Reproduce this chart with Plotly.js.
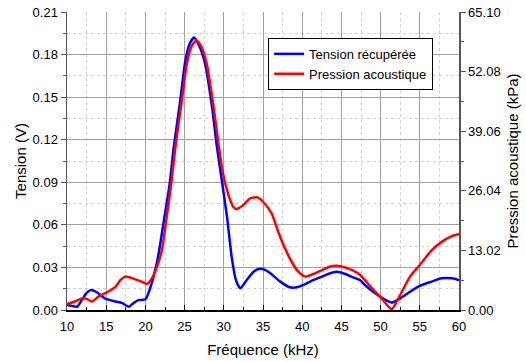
<!DOCTYPE html>
<html>
<head>
<meta charset="utf-8">
<script src="https://cdn.plot.ly/plotly-3.0.1.min.js"></script>
<style>body{margin:0;padding:0;background:#fff;}#chart{width:526px;height:362px;}</style>
</head>
<body>
<div id="chart"></div>
<script>
// Tension récupérée (V)
const freqTension = [10,10.5,11.3,12.0,12.5,13.0,13.8,14.9,16.2,17.0,17.9,18.5,19.1,20.0,20.6,21.2,21.7,22.3,23.1,23.6,24.4,25.05,25.6,26.2,26.8,27.6,28.5,29.1,29.7,30.4,31.0,31.55,32.1,32.9,33.8,34.6,35.2,35.9,37.2,38.4,39.3,40.4,41.4,42.5,43.3,44.4,45.5,46.5,47.4,48.0,49.3,50.3,51.4,52.5,53.75,55.0,56.5,57.8,59.1,60];
const tension = [0.0035,0.003,0.0023,0.008,0.012,0.014,0.0125,0.008,0.006,0.005,0.0023,0.005,0.007,0.0075,0.0153,0.027,0.040,0.061,0.089,0.114,0.1457,0.174,0.187,0.192,0.187,0.174,0.143,0.116,0.093,0.066,0.0376,0.021,0.0153,0.021,0.027,0.029,0.0285,0.026,0.020,0.016,0.016,0.0183,0.021,0.0235,0.0254,0.027,0.0254,0.023,0.021,0.0176,0.0118,0.0082,0.0052,0.0082,0.0129,0.017,0.020,0.0223,0.0223,0.021];

// Pression acoustique (kPa)
const freqPression = [10,11.0,11.9,12.5,13.2,14.0,15.3,16.2,16.8,17.4,18.7,19.5,20.2,20.8,21.3,22.1,22.6,23.3,23.8,24.6,25.3,25.9,26.5,27.1,27.8,28.7,29.3,29.9,30.6,31.2,31.6,32.5,33.35,34.3,35.0,36.1,36.95,37.8,38.65,39.5,40.4,41.4,42.5,43.5,44.4,45.5,46.5,47.4,48.0,49.3,50.3,51.4,52.5,53.75,55.0,56.5,57.8,59.1,60];
const pression = [1.30,1.86,2.54,2.42,1.86,2.91,4.03,5.12,6.51,7.29,6.70,6.20,5.67,6.82,8.68,13.02,18.91,27.59,35.34,45.17,53.94,57.66,58.90,57.66,53.94,44.33,36.58,29.76,25.11,22.57,22.07,22.94,24.40,24.61,23.65,21.08,17.05,13.49,10.54,8.37,7.29,7.87,8.68,9.46,9.67,9.30,8.59,7.66,6.51,4.00,2.17,0.16,3.29,7.29,9.83,13.02,14.88,16.12,16.59];

const rightTicks = [0, 13.02, 26.04, 39.06, 52.08, 65.10];
const rightTickText = ['0.00','13.02','26.04','39.06','52.08','65.10'];

const font = 'Liberation Sans, Arial, sans-serif';

const traces = [
  {x: freqTension, y: tension, name: 'Tension récupérée', type: 'scatter', mode: 'lines',
   line: {color: '#0000FF', width: 2.5, shape: 'spline', smoothing: 0.6}, xaxis: 'x', yaxis: 'y'},
  {x: freqPression, y: pression, name: 'Pression acoustique', type: 'scatter', mode: 'lines',
   line: {color: '#FF0000', width: 2.5, shape: 'spline', smoothing: 0.6}, xaxis: 'x', yaxis: 'y2'}
];

const layout = {
  width: 526, height: 362,
  margin: {l: 67, r: 67, t: 12, b: 52},
  paper_bgcolor: '#fff', plot_bgcolor: '#fff',
  font: {family: font, size: 13, color: '#000'},
  showlegend: true,
  legend: {x: 0.513, y: 0.913, xanchor: 'left', yanchor: 'top', bgcolor: '#fff',
    bordercolor: '#000', borderwidth: 1, font: {family: font, size: 13, color: '#000'},
    tracegroupgap: 0, itemwidth: 30},
  xaxis: {range: [10, 60], dtick: 5, tick0: 10, showline: true, linecolor: '#000', linewidth: 1.5,
    ticks: 'inside', ticklen: 5, tickcolor: '#000', showgrid: true, gridcolor: '#a0a0a0', gridwidth: 1,
    zeroline: false, tickfont: {family: font, size: 13}, ticklabelstandoff: 4,
    minor: {dtick: 2.5, ticks: 'inside', ticklen: 3, tickcolor: '#000', showgrid: true, gridcolor: '#d0d0d0', griddash: 'dot', gridwidth: 1},
    title: {text: 'Fréquence (kHz)', font: {family: font, size: 15}, standoff: 11}},
  yaxis: {range: [0, 0.21], dtick: 0.03, tick0: 0, tickformat: '.2f', showline: true, linecolor: '#555', linewidth: 1.5,
    ticks: 'outside', ticklen: 5, tickcolor: '#555', showgrid: true, gridcolor: '#a0a0a0', gridwidth: 1,
    zeroline: false, tickfont: {family: font, size: 13},
    minor: {dtick: 0.015, ticks: 'outside', ticklen: 3, tickcolor: '#555', showgrid: true, gridcolor: '#d0d0d0', griddash: 'dot', gridwidth: 1},
    title: {text: 'Tension (V)', font: {family: font, size: 15}, standoff: 2}},
  yaxis2: {range: [0, 65.10], overlaying: 'y', side: 'right', tickmode: 'array', tickvals: rightTicks, ticktext: rightTickText,
    showline: true, linecolor: '#555', linewidth: 1.5, ticks: 'outside', ticklen: 5, tickcolor: '#555',
    showgrid: false, zeroline: false, tickfont: {family: font, size: 13},
    minor: {tickvals: [6.51, 19.53, 32.55, 45.57, 58.59], ticks: 'outside', ticklen: 3, tickcolor: '#555', showgrid: false},
    title: {text: 'Pression acoustique (kPa)', font: {family: font, size: 15}, standoff: 8}}
};

Plotly.newPlot('chart', traces, layout, {displayModeBar: false, staticPlot: true});
</script>
</body>
</html>
